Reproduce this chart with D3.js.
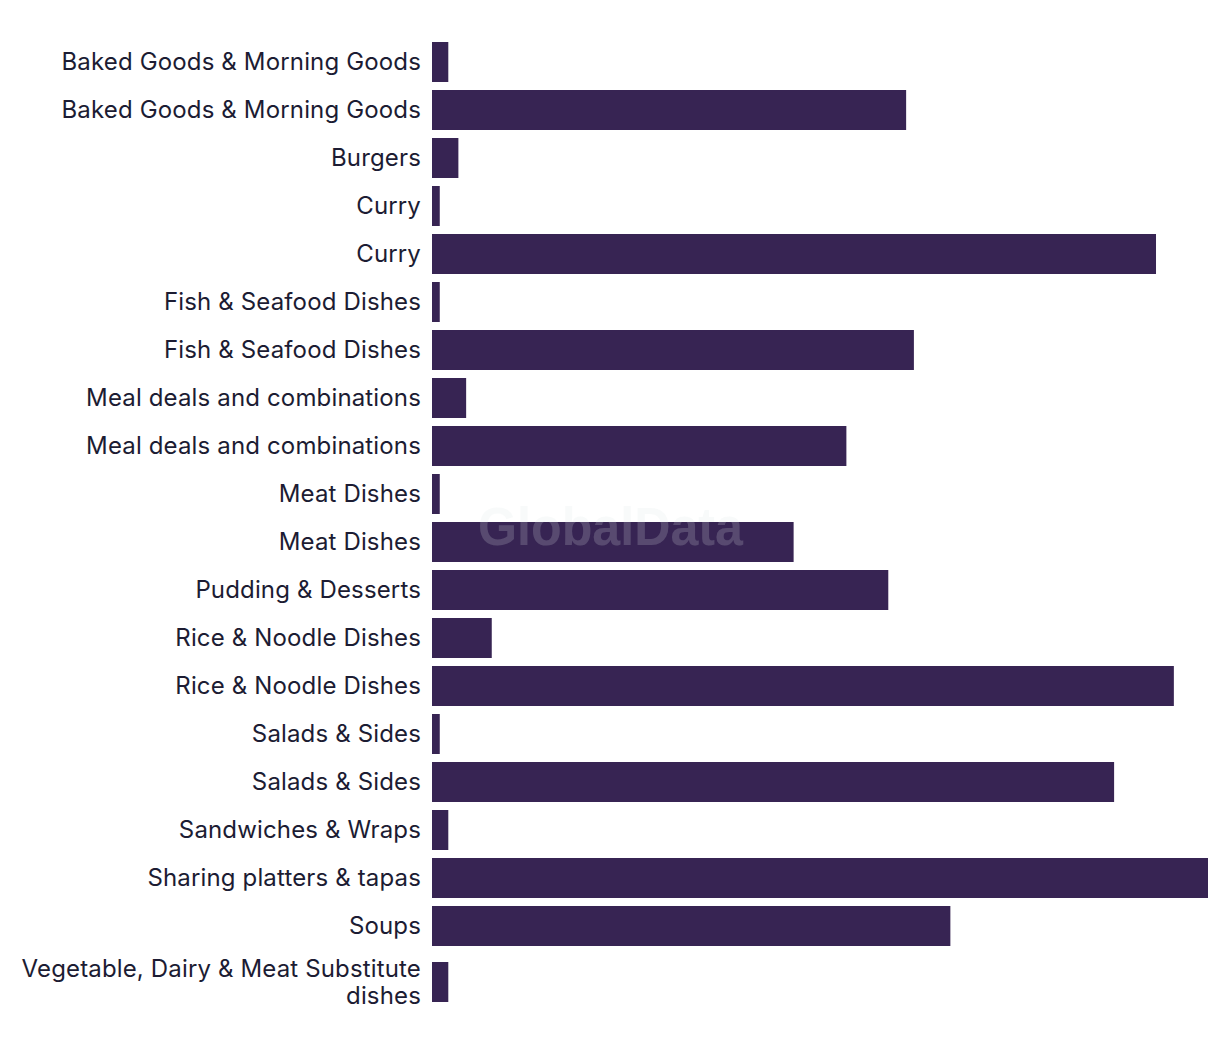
<!DOCTYPE html>
<html><head><meta charset="utf-8">
<script src="https://cdn.jsdelivr.net/npm/d3@7"></script>
<style>body{margin:0;background:#fff;}svg{display:block;}</style>
</head><body><div id="chart"></div>
<script>
const categories = [
  "Baked Goods & Morning Goods","Baked Goods & Morning Goods","Burgers","Curry","Curry",
  "Fish & Seafood Dishes","Fish & Seafood Dishes","Meal deals and combinations","Meal deals and combinations",
  "Meat Dishes","Meat Dishes","Pudding & Desserts","Rice & Noodle Dishes","Rice & Noodle Dishes",
  "Salads & Sides","Salads & Sides","Sandwiches & Wraps","Sharing platters & tapas","Soups",
  "Vegetable, Dairy & Meat Substitute dishes"
];
const values = [2.1,61.1,3.4,1.0,93.3,1.0,62.1,4.4,53.4,1.0,46.6,58.8,7.7,95.6,1.0,87.9,2.1,100,66.8,2.1];
const labelLines = categories.map(c => c === "Vegetable, Dairy & Meat Substitute dishes" ? ["Vegetable, Dairy & Meat Substitute","dishes"] : [c]);

const W = 1220, H = 1054;
const mLeft = 432, mRight = 1208, mTop = 42;
const step = 48, gap = 8, extraWrap = 8;

const svg = d3.select("#chart").append("svg").attr("width", W).attr("height", H);

const x = d3.scaleLinear().domain([0, 100]).range([mLeft, mRight]);
const y = d3.scaleBand().domain(d3.range(categories.length))
  .range([mTop, mTop + step * categories.length - gap]).paddingInner(gap/step).paddingOuter(0);
const offs = [];
let acc = 0;
labelLines.forEach((l, i) => { if (l.length > 1) acc += extraWrap; offs.push(acc); });

const g = svg.append("g");
g.selectAll("rect").data(values).join("rect")
  .attr("x", x(0))
  .attr("y", (d, i) => y(i) + offs[i])
  .attr("width", d => x(d) - x(0))
  .attr("height", y.bandwidth())
  .attr("fill", "#372453");

const fontFam = "Inter, 'Noto Sans', sans-serif";
const labels = g.selectAll("text.lbl").data(labelLines).join("text")
  .attr("class", "lbl")
  .attr("text-anchor", "end")
  .attr("font-family", fontFam)
  .attr("font-size", 24)
  .attr("letter-spacing", "0.15px")
  .attr("fill", "#1c1c33")
  .attr("transform", (d, i) => `translate(${mLeft - 11},${y(i) + offs[i] + y.bandwidth()/2})`);
labels.each(function(lines) {
  const t = d3.select(this);
  const lh = 27.5;
  const n = lines.length;
  lines.forEach((s, k) => {
    t.append("tspan").attr("x", 0).attr("y", (k - (n - 1) / 2) * lh).attr("dy", "0.35em").text(s);
  });
});

svg.append("text")
  .attr("x", 478).attr("y", 545)
  .attr("textLength", 265).attr("lengthAdjust", "spacingAndGlyphs")
  .attr("font-family", "'Liberation Sans', Arial, sans-serif").attr("font-weight", "bold")
  .attr("font-size", 53).attr("fill", "#dbe6e8").attr("fill-opacity", 0.2)
  .text("GlobalData");
</script></body></html>
